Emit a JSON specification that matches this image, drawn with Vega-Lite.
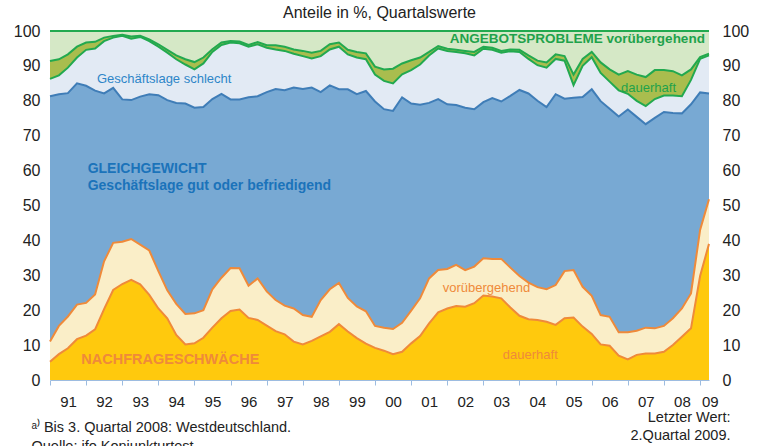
{
  "$schema": "https://vega.github.io/schema/vega-lite/v6.json",
  "width": 659,
  "height": 349,
  "autosize": {"type": "none"},
  "padding": {"left": 50, "top": 31, "right": 50, "bottom": 66},
  "background": "white",
  "title": {"text": "Anteile in %, Quartalswerte", "fontSize": 16, "fontWeight": "normal", "color": "#222222", "anchor": "middle", "baseline": "bottom", "offset": 2, "dy": 16},
  "datasets": {
    "shares": [
      {"q":"1991-01-01","nd":5.2,"nv":5.8,"gg":70.3,"gs":5.0,"ad":5.1,"av":8.6},
      {"q":"1991-04-01","nd":7.4,"nv":8.1,"gg":66.4,"gs":5.4,"ad":4.6,"av":8.1},
      {"q":"1991-07-01","nd":9.1,"nv":9.1,"gg":64.0,"gs":7.3,"ad":3.8,"av":6.7},
      {"q":"1991-10-01","nd":11.7,"nv":9.9,"gg":63.4,"gs":7.4,"ad":3.1,"av":4.5},
      {"q":"1992-01-01","nd":12.7,"nv":9.4,"gg":62.2,"gs":10.3,"ad":2.1,"av":3.3},
      {"q":"1992-04-01","nd":14.5,"nv":10.0,"gg":58.4,"gs":12.1,"ad":1.9,"av":3.1},
      {"q":"1992-07-01","nd":20.3,"nv":13.7,"gg":48.1,"gs":15.0,"ad":1.0,"av":1.9},
      {"q":"1992-10-01","nd":25.8,"nv":13.5,"gg":44.4,"gs":14.4,"ad":0.5,"av":1.4},
      {"q":"1993-01-01","nd":27.5,"nv":12.1,"gg":40.8,"gs":18.2,"ad":0.3,"av":1.1},
      {"q":"1993-04-01","nd":28.7,"nv":11.7,"gg":39.8,"gs":17.6,"ad":0.6,"av":1.6},
      {"q":"1993-07-01","nd":27.4,"nv":11.4,"gg":42.4,"gs":17.1,"ad":0.3,"av":1.4},
      {"q":"1993-10-01","nd":24.4,"nv":12.7,"gg":44.8,"gs":15.2,"ad":0.5,"av":2.4},
      {"q":"1994-01-01","nd":20.5,"nv":10.7,"gg":50.4,"gs":13.9,"ad":0.7,"av":3.8},
      {"q":"1994-04-01","nd":17.7,"nv":8.0,"gg":54.5,"gs":13.6,"ad":0.8,"av":5.4},
      {"q":"1994-07-01","nd":12.9,"nv":8.9,"gg":57.6,"gs":12.5,"ad":1.1,"av":7.0},
      {"q":"1994-10-01","nd":10.2,"nv":8.7,"gg":60.3,"gs":11.2,"ad":1.5,"av":8.1},
      {"q":"1995-01-01","nd":10.5,"nv":8.6,"gg":58.9,"gs":11.0,"ad":2.1,"av":8.9},
      {"q":"1995-04-01","nd":12.1,"nv":7.9,"gg":58.2,"gs":12.5,"ad":1.7,"av":7.6},
      {"q":"1995-07-01","nd":15.0,"nv":11.0,"gg":54.5,"gs":13.5,"ad":0.8,"av":5.2},
      {"q":"1995-10-01","nd":17.7,"nv":11.6,"gg":52.7,"gs":14.0,"ad":0.7,"av":3.3},
      {"q":"1996-01-01","nd":19.8,"nv":12.3,"gg":48.3,"gs":16.3,"ad":0.4,"av":2.9},
      {"q":"1996-04-01","nd":20.2,"nv":11.8,"gg":48.4,"gs":16.1,"ad":0.5,"av":3.0},
      {"q":"1996-07-01","nd":17.8,"nv":9.2,"gg":54.0,"gs":14.5,"ad":0.5,"av":4.0},
      {"q":"1996-10-01","nd":17.2,"nv":11.9,"gg":52.2,"gs":14.9,"ad":0.6,"av":3.2},
      {"q":"1997-01-01","nd":15.6,"nv":9.8,"gg":57.1,"gs":12.7,"ad":0.7,"av":4.1},
      {"q":"1997-04-01","nd":14.0,"nv":8.9,"gg":60.5,"gs":11.3,"ad":1.2,"av":4.1},
      {"q":"1997-07-01","nd":13.1,"nv":8.2,"gg":61.7,"gs":11.3,"ad":1.2,"av":4.5},
      {"q":"1997-10-01","nd":11.0,"nv":9.5,"gg":63.3,"gs":9.7,"ad":1.2,"av":5.3},
      {"q":"1998-01-01","nd":10.2,"nv":8.4,"gg":64.8,"gs":9.4,"ad":1.5,"av":5.7},
      {"q":"1998-04-01","nd":11.2,"nv":6.9,"gg":65.7,"gs":8.3,"ad":1.7,"av":6.2},
      {"q":"1998-07-01","nd":12.5,"nv":10.4,"gg":59.6,"gs":10.3,"ad":1.5,"av":5.7},
      {"q":"1998-10-01","nd":13.8,"nv":12.2,"gg":58.4,"gs":10.3,"ad":1.5,"av":3.8},
      {"q":"1999-01-01","nd":16.0,"nv":11.8,"gg":55.5,"gs":12.2,"ad":1.2,"av":3.3},
      {"q":"1999-04-01","nd":13.9,"nv":9.6,"gg":59.8,"gs":10.0,"ad":1.3,"av":5.4},
      {"q":"1999-07-01","nd":12.0,"nv":9.1,"gg":60.8,"gs":10.5,"ad":1.6,"av":6.0},
      {"q":"1999-10-01","nd":10.4,"nv":9.3,"gg":63.1,"gs":9.1,"ad":1.7,"av":6.4},
      {"q":"2000-01-01","nd":9.2,"nv":6.3,"gg":64.3,"gs":7.7,"ad":2.3,"av":10.2},
      {"q":"2000-04-01","nd":8.4,"nv":6.6,"gg":62.6,"gs":8.1,"ad":3.3,"av":11.0},
      {"q":"2000-07-01","nd":7.4,"nv":7.2,"gg":62.5,"gs":7.9,"ad":4.2,"av":10.8},
      {"q":"2000-10-01","nd":8.1,"nv":8.3,"gg":64.6,"gs":6.6,"ad":3.1,"av":9.3},
      {"q":"2001-01-01","nd":10.5,"nv":9.4,"gg":59.3,"gs":9.6,"ad":2.8,"av":8.4},
      {"q":"2001-04-01","nd":12.6,"nv":10.8,"gg":55.5,"gs":11.5,"ad":2.0,"av":7.6},
      {"q":"2001-07-01","nd":16.2,"nv":12.9,"gg":50.3,"gs":13.6,"ad":1.0,"av":6.0},
      {"q":"2001-10-01","nd":19.4,"nv":12.1,"gg":49.0,"gs":14.5,"ad":0.7,"av":4.3},
      {"q":"2002-01-01","nd":20.5,"nv":11.3,"gg":47.2,"gs":15.3,"ad":0.6,"av":5.1},
      {"q":"2002-04-01","nd":21.2,"nv":11.8,"gg":45.8,"gs":15.2,"ad":0.6,"av":5.4},
      {"q":"2002-07-01","nd":21.0,"nv":10.5,"gg":46.5,"gs":15.6,"ad":0.7,"av":5.7},
      {"q":"2002-10-01","nd":22.0,"nv":10.5,"gg":45.1,"gs":15.4,"ad":1.0,"av":6.0},
      {"q":"2003-01-01","nd":24.2,"nv":10.7,"gg":44.7,"gs":15.3,"ad":0.6,"av":4.5},
      {"q":"2003-04-01","nd":23.9,"nv":10.8,"gg":46.1,"gs":13.8,"ad":0.6,"av":4.8},
      {"q":"2003-07-01","nd":23.4,"nv":11.3,"gg":45.1,"gs":14.0,"ad":0.5,"av":5.7},
      {"q":"2003-10-01","nd":20.8,"nv":11.4,"gg":49.2,"gs":12.8,"ad":0.5,"av":5.3},
      {"q":"2004-01-01","nd":18.4,"nv":11.4,"gg":53.3,"gs":10.9,"ad":0.6,"av":5.4},
      {"q":"2004-04-01","nd":17.4,"nv":10.5,"gg":54.2,"gs":9.9,"ad":1.0,"av":7.0},
      {"q":"2004-07-01","nd":17.2,"nv":9.4,"gg":53.4,"gs":10.2,"ad":1.3,"av":8.5},
      {"q":"2004-10-01","nd":16.7,"nv":9.3,"gg":52.2,"gs":11.3,"ad":1.5,"av":9.0},
      {"q":"2005-01-01","nd":15.8,"nv":11.4,"gg":54.7,"gs":10.1,"ad":1.3,"av":6.7},
      {"q":"2005-04-01","nd":17.7,"nv":13.5,"gg":49.4,"gs":10.9,"ad":1.3,"av":7.2},
      {"q":"2005-07-01","nd":17.9,"nv":13.6,"gg":49.4,"gs":3.6,"ad":3.0,"av":12.5},
      {"q":"2005-10-01","nd":15.3,"nv":11.4,"gg":54.4,"gs":8.9,"ad":2.0,"av":8.0},
      {"q":"2006-01-01","nd":13.2,"nv":10.9,"gg":59.2,"gs":9.2,"ad":1.5,"av":6.0},
      {"q":"2006-04-01","nd":10.2,"nv":8.4,"gg":61.3,"gs":8.1,"ad":3.0,"av":9.0},
      {"q":"2006-07-01","nd":9.8,"nv":8.3,"gg":59.6,"gs":7.8,"ad":3.5,"av":11.0},
      {"q":"2006-10-01","nd":7.0,"nv":6.7,"gg":61.8,"gs":7.5,"ad":4.5,"av":12.5},
      {"q":"2007-01-01","nd":5.9,"nv":7.8,"gg":63.8,"gs":4.5,"ad":6.5,"av":11.5},
      {"q":"2007-04-01","nd":7.2,"nv":6.9,"gg":61.3,"gs":4.6,"ad":7.5,"av":12.5},
      {"q":"2007-07-01","nd":7.6,"nv":7.4,"gg":58.3,"gs":5.2,"ad":8.3,"av":13.2},
      {"q":"2007-10-01","nd":7.6,"nv":7.2,"gg":60.3,"gs":5.4,"ad":8.3,"av":11.2},
      {"q":"2008-01-01","nd":8.1,"nv":7.4,"gg":61.3,"gs":4.7,"ad":7.3,"av":11.2},
      {"q":"2008-04-01","nd":10.0,"nv":7.7,"gg":58.8,"gs":5.0,"ad":7.0,"av":11.5},
      {"q":"2008-07-01","nd":12.4,"nv":8.1,"gg":55.9,"gs":4.9,"ad":6.0,"av":12.7},
      {"q":"2008-10-01","nd":14.8,"nv":10.0,"gg":54.2,"gs":7.0,"ad":3.0,"av":11.0},
      {"q":"2009-01-01","nd":29.8,"nv":13.2,"gg":39.4,"gs":9.6,"ad":0.5,"av":7.5},
      {"q":"2009-04-01","nd":39.0,"nv":12.8,"gg":30.3,"gs":10.9,"ad":0.5,"av":6.5}
    ]
  },
  "layer": [
    {
      "data": {"name": "shares"},
      "transform": [
        {"fold": ["nd", "nv", "gg", "gs", "ad", "av"], "as": ["series", "share"]},
        {"lookup": "series", "from": {"data": {"values": [{"series":"nd","rank":1},{"series":"nv","rank":2},{"series":"gg","rank":3},{"series":"gs","rank":4},{"series":"ad","rank":5},{"series":"av","rank":6}]}, "key": "series", "fields": ["rank"]}},
        {"stack": "share", "groupby": ["q"], "sort": [{"field": "rank", "order": "ascending"}], "as": ["lo", "hi"]}
      ],
      "mark": {"type": "area", "interpolate": "linear"},
      "encoding": {
        "x": {
          "field": "q", "type": "temporal",
          "scale": {"type": "utc", "domain": [{"year": 1991, "month": 1, "date": 1, "utc": true}, {"year": 2009, "month": 4, "date": 1, "utc": true}]},
          "axis": {
            "orient": "bottom",
            "values": [{"year":1991,"utc":true},{"year":1992,"utc":true},{"year":1993,"utc":true},{"year":1994,"utc":true},{"year":1995,"utc":true},{"year":1996,"utc":true},{"year":1997,"utc":true},{"year":1998,"utc":true},{"year":1999,"utc":true},{"year":2000,"utc":true},{"year":2001,"utc":true},{"year":2002,"utc":true},{"year":2003,"utc":true},{"year":2004,"utc":true},{"year":2005,"utc":true},{"year":2006,"utc":true},{"year":2007,"utc":true},{"year":2008,"utc":true},{"year":2009,"utc":true}],
            "labelExpr": "utcFormat(datum.value, '%y')",
            "labelOffset": 18,
            "labelAlign": {"condition": {"test": "utcyear(datum.value) >= 2009", "value": "right"}, "value": "center"},
            "labelFlush": false,
            "labelOverlap": false,
            "labelBound": false,
            "labelFontSize": 15,
            "labelColor": "#222222",
            "labelPadding": 9,
            "tickColor": "#9DBCE0",
            "tickSize": 5,
            "domainColor": "#9DBCE0",
            "grid": false,
            "title": ["ᵃ⁾ Bis 3. Quartal 2008: Westdeutschland.", "Quelle: ifo Konjunkturtest."],
            "titleFontSize": 14.5,
            "titleFontWeight": "normal",
            "titleColor": "#222222",
            "titleAnchor": "start",
            "titleAlign": "left",
            "titleBaseline": "top",
            "titleX": -19,
            "titleY": 40,
            "titleLineHeight": 19
          }
        },
        "y": {
          "field": "hi", "type": "quantitative", "stack": null,
          "scale": {"domain": [0, 100], "nice": false},
          "axis": {"orient": "left", "values": [0,10,20,30,40,50,60,70,80,90,100], "ticks": false, "domain": false, "grid": false, "labelFontSize": 16, "labelColor": "#222222", "labelPadding": 10, "title": null}
        },
        "y2": {"field": "lo"},
        "fill": {
          "field": "series", "type": "nominal",
          "scale": {"domain": ["nd", "nv", "gg", "gs", "ad", "av"], "range": ["#FFC90D", "#FAEEC8", "#78A9D3", "#E2EAF4", "#A9BD4E", "#D5E8C6"]},
          "legend": null
        }
      }
    },
    {
      "data": {"name": "shares"},
      "transform": [
        {"fold": ["nd", "nv", "gg", "gs", "ad", "av"], "as": ["series", "share"]},
        {"lookup": "series", "from": {"data": {"values": [{"series":"nd","rank":1},{"series":"nv","rank":2},{"series":"gg","rank":3},{"series":"gs","rank":4},{"series":"ad","rank":5},{"series":"av","rank":6}]}, "key": "series", "fields": ["rank"]}},
        {"stack": "share", "groupby": ["q"], "sort": [{"field": "rank", "order": "ascending"}], "as": ["lo", "hi"]}
      ],
      "mark": {"type": "line", "interpolate": "linear"},
      "encoding": {
        "x": {"field": "q", "type": "temporal", "axis": null},
        "y": {
          "field": "hi", "type": "quantitative", "stack": null,
          "axis": {
            "orient": "right", "values": [0,10,20,30,40,50,60,70,80,90,100], "ticks": false, "domain": false, "grid": false, "labelFontSize": 16, "labelColor": "#222222", "labelPadding": 13,
            "title": ["Letzter Wert:", "2.Quartal 2009."],
            "titleAngle": 0, "titleFontSize": 14.5, "titleFontWeight": "normal", "titleColor": "#222222",
            "titleAlign": "right", "titleBaseline": "top", "titleX": 21, "titleY": 379, "titleLineHeight": 18
          }
        },
        "stroke": {
          "field": "series", "type": "nominal",
          "scale": {"domain": ["nd", "nv", "gg", "gs", "ad", "av"], "range": ["#EF8A3A", "#EF8A3A", "#3F7DB7", "#22A94F", "#22A94F", "#22A94F"]},
          "legend": null
        },
        "strokeWidth": {
          "field": "series", "type": "ordinal",
          "scale": {"domain": ["nd", "nv", "gg", "gs", "ad", "av"], "range": [2, 2, 1, 1.6, 1.6, 1.6]},
          "legend": null
        }
      }
    },
    {
      "data": {"values": [{"x": "1994-03-01", "y": 86.3, "label": "Geschäftslage schlecht"}]},
      "mark": {"type": "text", "align": "center", "baseline": "middle", "fontSize": 13, "color": "#2E86C8"},
      "encoding": {"x": {"field": "x", "type": "temporal", "axis": null}, "y": {"field": "y", "type": "quantitative", "axis": null}, "text": {"field": "label"}}
    },
    {
      "data": {"values": [{"x": "1992-01-17", "y": 60.6, "label": "GLEICHGEWICHT"}, {"x": "1992-01-17", "y": 55.5, "label": "Geschäftslage gut oder befriedigend"}]},
      "mark": {"type": "text", "align": "left", "baseline": "middle", "fontSize": 14, "fontWeight": "bold", "color": "#1B73BA"},
      "encoding": {"x": {"field": "x", "type": "temporal", "axis": null}, "y": {"field": "y", "type": "quantitative", "axis": null}, "text": {"field": "label"}}
    },
    {
      "data": {"values": [{"x": "1991-11-14", "y": 5.8, "label": "NACHFRAGESCHWÄCHE"}]},
      "mark": {"type": "text", "align": "left", "baseline": "middle", "fontSize": 14.5, "fontWeight": "bold", "color": "#EF8A3A"},
      "encoding": {"x": {"field": "x", "type": "temporal", "axis": null}, "y": {"field": "y", "type": "quantitative", "axis": null}, "text": {"field": "label"}}
    },
    {
      "data": {"values": [{"x": "2003-02-01", "y": 26.5, "label": "vorübergehend"}, {"x": "2004-04-20", "y": 7.2, "label": "dauerhaft"}]},
      "mark": {"type": "text", "align": "center", "baseline": "middle", "fontSize": 13, "color": "#EF8A3A"},
      "encoding": {"x": {"field": "x", "type": "temporal", "axis": null}, "y": {"field": "y", "type": "quantitative", "axis": null}, "text": {"field": "label"}}
    },
    {
      "data": {"values": [{"x": "2002-01-27", "y": 97.7, "label": "ANGEBOTSPROBLEME vorübergehend"}]},
      "mark": {"type": "text", "align": "left", "baseline": "middle", "fontSize": 13.5, "fontWeight": "bold", "color": "#1FA24B"},
      "encoding": {"x": {"field": "x", "type": "temporal", "axis": null}, "y": {"field": "y", "type": "quantitative", "axis": null}, "text": {"field": "label"}}
    },
    {
      "data": {"values": [{"x": "2007-07-30", "y": 83.6, "label": "dauerhaft"}]},
      "mark": {"type": "text", "align": "center", "baseline": "middle", "fontSize": 13, "color": "#1FA24B"},
      "encoding": {"x": {"field": "x", "type": "temporal", "axis": null}, "y": {"field": "y", "type": "quantitative", "axis": null}, "text": {"field": "label"}}
    }
  ],
  "resolve": {"axis": {"x": "independent", "y": "independent"}},
  "config": {
    "font": "Liberation Sans",
    "view": {"stroke": null},
    "axis": {"grid": false}
  }
}
